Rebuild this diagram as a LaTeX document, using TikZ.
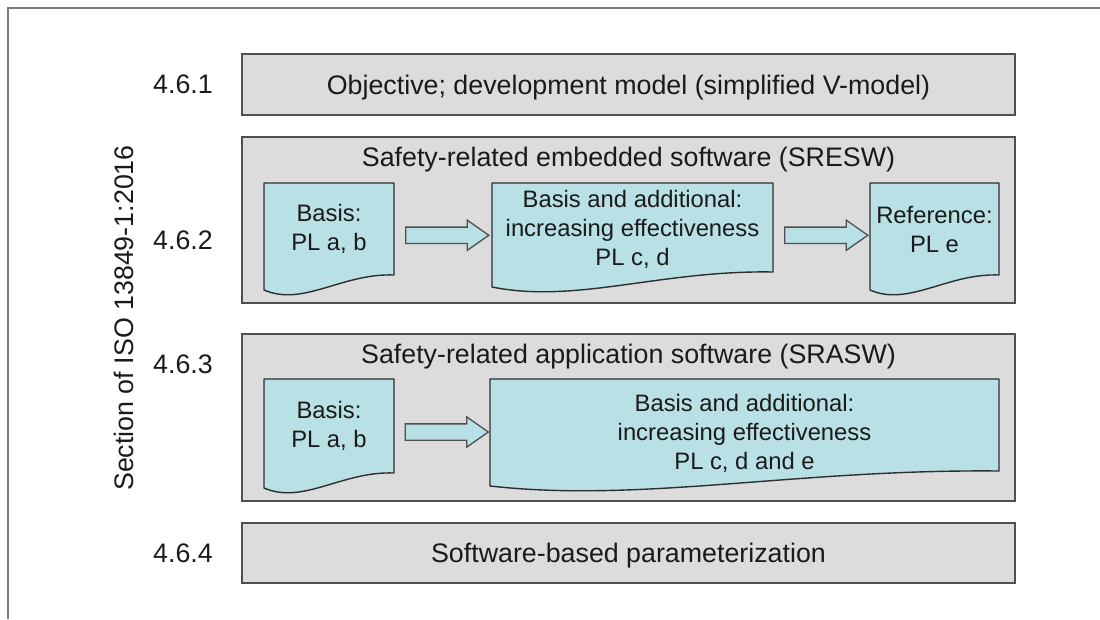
\documentclass[tikz,border=0pt]{standalone}
\usepackage{fontspec}
\setmainfont{Liberation Sans}
\usetikzlibrary{shapes.arrows,calc}

\definecolor{framegray}{HTML}{7A7A7A}
\definecolor{boxfill}{HTML}{DCDCDC}
\definecolor{boxline}{HTML}{505050}
\definecolor{docfill}{HTML}{B9E1E5}
\definecolor{docline}{HTML}{2E2E2E}
\definecolor{inkdark}{HTML}{1A1A1A}

\tikzset{
  frameline/.style={draw=framegray, line width=2pt},
  graybox/.style={draw=boxline, fill=boxfill, line width=1.8pt, inner sep=0pt,
    outer sep=0pt, minimum width=773pt, anchor=north west},
  bigtext/.style={font=\fontsize{26.8pt}{31pt}\selectfont, text=inkdark, inner sep=0pt},
  docarea/.style={inner sep=0pt, outer sep=0pt, anchor=north west},
  docshape/.style={draw=docline, fill=docfill, line width=1.4pt, line join=round},
  doctext/.style={font=\fontsize{23.8pt}{29pt}\selectfont, text=inkdark, align=center, inner sep=0pt},
  blockarrow/.style={shape=single arrow, draw=boxline, fill=docfill, line width=1.3pt,
    single arrow head extend=7pt, single arrow tip angle=70, minimum height=83pt,
    inner xsep=0pt, inner ysep=7.5pt, outer sep=0pt},
}

% document outline with a wavy lower edge, drawn on the anchors of an area node
\newcommand{\docoutline}[1]{%
  \draw[docshape] (#1.north west) -- (#1.north east) -- (#1.south east)
    .. controls ($(#1.south west)!0.6!(#1.south east)+(0,-2)$)
       and ($(#1.south west)!0.3!(#1.south east)+(0,32)$)
    .. ($(#1.south west)+(0,15)$) -- cycle;}

\begin{document}
\begin{tikzpicture}[x=1pt, y=-1pt]
\useasboundingbox (0,0) rectangle (1100,619);

% partial frame: top and left edge
\coordinate (fbl) at (8,619);
\coordinate (ftl) at (8,8);
\coordinate (ftr) at (1100,8);
\draw[frameline] (fbl) -- (ftl) -- (ftr);

% section rows
\node[graybox, minimum height=61pt] (s1) at (242,54) {};
\node[bigtext, anchor=base] (s1t) at ([yshift=-9.5pt]s1.center)
  {Objective; development model (simplified V-model)};

\node[graybox, minimum height=166pt] (s2) at (242,137) {};
\node[bigtext, anchor=base] (s2t) at ([yshift=-29pt]s2.north)
  {Safety-related embedded software (SRESW)};

\node[graybox, minimum height=167pt] (s3) at (242,334) {};
\node[bigtext, anchor=base] (s3t) at ([yshift=-29pt]s3.north)
  {Safety-related application software (SRASW)};

\node[graybox, minimum height=60pt] (s4) at (242,523) {};
\node[bigtext, anchor=base] (s4t) at ([yshift=-9.5pt]s4.center)
  {Software-based parameterization};

% section numbers
\node[bigtext, anchor=base] (l1) at (183,93) {4.6.1};
\node[bigtext, anchor=base] (l2) at (183,249) {4.6.2};
\node[bigtext, anchor=base] (l3) at (183,373) {4.6.3};
\node[bigtext, anchor=base] (l4) at (183,562) {4.6.4};
\node[bigtext, rotate=90, anchor=base] (axis) at (133,318) {Section of ISO 13849-1:2016};

% SRESW documents
\node[docarea, minimum width=130pt, minimum height=92pt] (d1) at (264,183) {};
\node[docarea, minimum width=281pt, minimum height=89pt] (d2) at (492,183) {};
\node[docarea, minimum width=129pt, minimum height=92pt] (d3) at (870,183) {};
\docoutline{d1}
\docoutline{d2}
\docoutline{d3}
\node[doctext] (d1t) at (d1.center) {Basis:\\PL a, b};
\node[doctext] (d2t) at ([yshift=-1.5pt]d2.center) {Basis and additional:\\increasing effectiveness\\PL c, d};
\node[doctext] (d3t) at (d3.center) {Reference:\\PL e};
\path (d1.east) -- (d2.west) node[midway, xshift=-1.5pt, yshift=-7pt, blockarrow] (a1) {};
\path (d2.east) -- (d3.west) node[midway, xshift=-1pt, yshift=-7pt, blockarrow] (a2) {};

% SRASW documents
\node[docarea, minimum width=130pt, minimum height=94pt] (d4) at (264,379) {};
\node[docarea, minimum width=509pt, minimum height=92pt] (d5) at (490,379) {};
\docoutline{d4}
\docoutline{d5}
\node[doctext] (d4t) at (d4.center) {Basis:\\PL a, b};
\node[doctext] (d5t) at ([yshift=-8.5pt]d5.center) {Basis and additional:\\increasing effectiveness\\PL c, d and e};
\path (d4.east) -- (d5.west) node[midway, xshift=-1pt, yshift=-6.5pt, blockarrow] (a3) {};
\end{tikzpicture}
\end{document}
